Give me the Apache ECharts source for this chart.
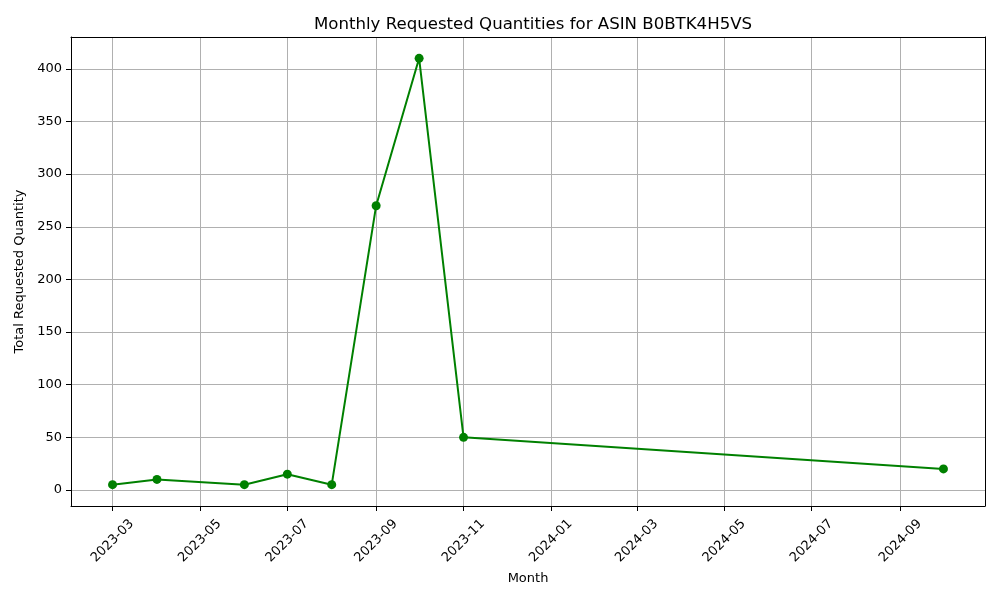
<!DOCTYPE html>
<html lang="en">
<head>
    <meta charset="UTF-8">
    <title>Monthly Requested Quantities</title>
    <script src="https://cdn.jsdelivr.net/npm/echarts@6/dist/echarts.min.js"></script>
    <style>
        html, body { margin: 0; padding: 0; background: #fff; }
        #chart { width: 1000px; height: 600px; }
    </style>
</head>
<body>
    <div id="chart"></div>

    <script>
        // data
        const months = ['2023-03', '2023-04', '2023-06', '2023-07', '2023-08', '2023-09', '2023-10', '2023-11', '2024-10'];
        const quantities = [5, 10, 5, 15, 5, 270, 410, 50, 20];

        const xTickLabels = ['2023-03', '2023-05', '2023-07', '2023-09', '2023-11', '2024-01', '2024-03', '2024-05', '2024-07', '2024-09'];
        const yTickValues = [0, 50, 100, 150, 200, 250, 300, 350, 400];

        // 'YYYY-MM' -> timestamp at first of month
        function toTime(ym) {
            const [y, m] = ym.split('-').map(Number);
            return Date.UTC(y, m - 1, 1);
        }

        const times = months.map(toTime);
        const xTicks = xTickLabels.map(toTime);
        // matplotlib default 5% margins
        const xSpan = times[times.length - 1] - times[0];
        const xMin = times[0] - xSpan * 0.05;
        const xMax = times[times.length - 1] + xSpan * 0.05;
        const ySpan = Math.max(...quantities) - Math.min(...quantities);
        const yMin = Math.min(...quantities) - ySpan * 0.05;
        const yMax = Math.max(...quantities) + ySpan * 0.05;

        const font = 'DejaVu Sans';
        const gridColor = '#b0b0b0';

        function fmtMonth(v) {
            const d = new Date(v);
            return d.getUTCFullYear() + '-' + String(d.getUTCMonth() + 1).padStart(2, '0');
        }

        const chart = echarts.init(document.getElementById('chart'), null, { renderer: 'canvas' });

        // plain frame axes for the top / right spines
        const spine = {
            type: 'value',
            min: 0, max: 1,
            axisLine: { show: true, onZero: false, lineStyle: { color: '#000', width: 1 } },
            axisTick: { show: false },
            axisLabel: { show: false },
            splitLine: { show: false }
        };

        const option = {
            animation: false,
            backgroundColor: '#fff',
            title: {
                text: 'Monthly Requested Quantities for ASIN B0BTK4H5VS',
                left: 528,
                top: 11,
                textAlign: 'center',
                textStyle: { fontFamily: font, fontSize: 16.6, fontWeight: 'normal', color: '#000' }
            },
            grid: { left: 71, right: 15, top: 37, bottom: 94 },
            xAxis: [
                {
                    type: 'value',
                    min: xMin,
                    max: xMax,
                    name: 'Month',
                    nameLocation: 'middle',
                    nameGap: 65,
                    nameTextStyle: { fontFamily: font, fontSize: 13, color: '#000' },
                    axisLine: { show: true, onZero: false, lineStyle: { color: '#000', width: 1 } },
                    axisTick: { show: true, length: 5, customValues: xTicks, lineStyle: { color: '#000' } },
                    axisLabel: {
                        customValues: xTicks,
                        formatter: v => fmtMonth(v),
                        rotate: 45,
                        align: 'center',
                        verticalAlign: 'middle',
                        margin: 35,
                        fontFamily: font,
                        fontSize: 13,
                        color: '#000',
                        hideOverlap: false
                    },
                    splitLine: { show: true, lineStyle: { color: gridColor, width: 1 } }
                },
                Object.assign({ position: 'top' }, spine)
            ],
            yAxis: [
                {
                    type: 'value',
                    min: yMin,
                    max: yMax,
                    name: 'Total Requested Quantity',
                    nameLocation: 'middle',
                    nameGap: 44,
                    nameRotate: 90,
                    nameTextStyle: { fontFamily: font, fontSize: 13, color: '#000' },
                    axisLine: { show: true, onZero: false, lineStyle: { color: '#000', width: 1 } },
                    axisTick: { show: true, length: 5, customValues: yTickValues, lineStyle: { color: '#000' } },
                    axisLabel: {
                        customValues: yTickValues,
                        margin: 9,
                        fontFamily: font,
                        fontSize: 13,
                        color: '#000'
                    },
                    splitLine: { show: true, lineStyle: { color: gridColor, width: 1 } }
                },
                Object.assign({ position: 'right' }, spine)
            ],
            series: [
                {
                    type: 'line',
                    data: times.map((t, i) => [t, quantities[i]]),
                    xAxisIndex: 0,
                    yAxisIndex: 0,
                    symbol: 'circle',
                    symbolSize: 9,
                    showAllSymbol: true,
                    itemStyle: { color: '#008000' },
                    lineStyle: { color: '#008000', width: 2 }
                }
            ]
        };

        chart.setOption(option);
        window.addEventListener('resize', () => chart.resize());
    </script>
</body>
</html>
